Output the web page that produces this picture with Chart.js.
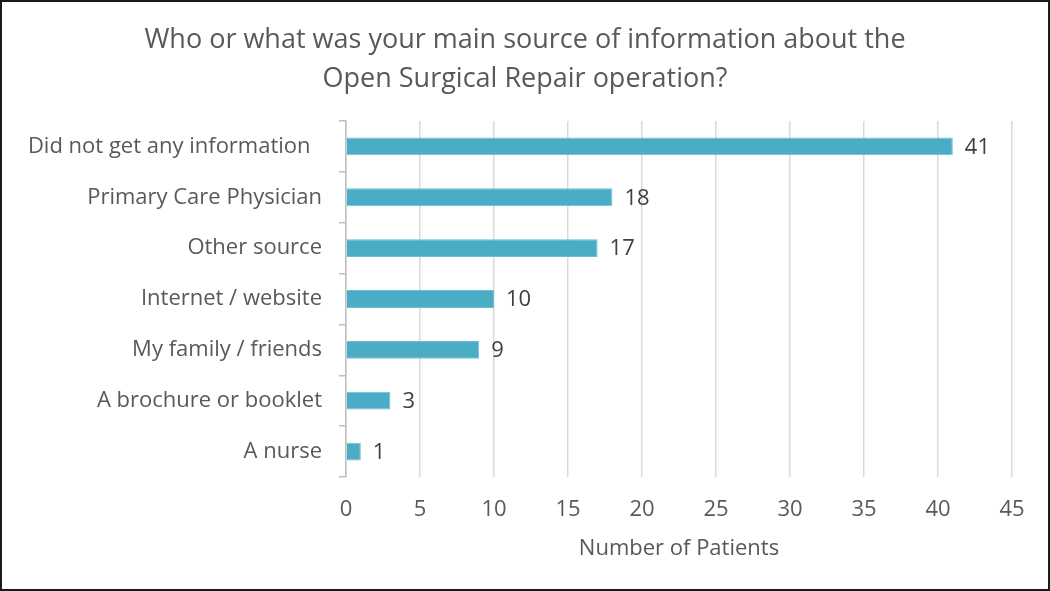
<!DOCTYPE html>
<html><head><meta charset="utf-8">
<script src="https://cdn.jsdelivr.net/npm/chart.js@4.4.1/dist/chart.umd.min.js"></script>
<style>html,body{margin:0;padding:0;background:#fff}#wrap{width:1050px;height:591px;position:relative}</style>
</head><body><div id="wrap"><canvas id="c" width="1050" height="591"></canvas></div>
<script>
const titleLines = ["Who or what was your main source of information about the", "Open Surgical Repair operation?"];
const categories = ["Did not get any information  ", "Primary Care Physician", "Other source", "Internet / website", "My family / friends", "A brochure or booklet", "A nurse"];
const patientCounts = [41, 18, 17, 10, 9, 3, 1];
const xAxisTitle = "Number of Patients";
const xMax = 45;
const xStep = 5;

const FONT = "'Open Sans', Lato, sans-serif";

const borderPlugin = {
  id: 'frame',
  afterDraw(chart) {
    const ctx = chart.ctx;
    ctx.save();
    ctx.strokeStyle = '#1a1a1a';
    ctx.lineWidth = 2;
    ctx.strokeRect(1, 1, chart.width - 2, chart.height - 2);
    ctx.restore();
  }
};
const labelPlugin = {
  id: 'vals',
  afterDatasetsDraw(chart) {
    const ctx = chart.ctx;
    const meta = chart.getDatasetMeta(0);
    ctx.save();
    ctx.font = "22px " + FONT;
    ctx.fillStyle = '#404040';
    ctx.textAlign = 'left';
    ctx.textBaseline = 'middle';
    meta.data.forEach((bar, i) => {
      ctx.fillText(String(chart.data.datasets[0].data[i]), bar.x + 12, bar.y + 1);
    });
    ctx.restore();
  }
};

new Chart(document.getElementById('c'), {
  type: 'bar',
  data: {
    labels: categories,
    datasets: [{
      data: patientCounts,
      backgroundColor: '#4BACC6',
      borderColor: '#6cc0d6',
      borderWidth: 1,
      barPercentage: 0.35,
      categoryPercentage: 1.0
    }]
  },
  options: {
    indexAxis: 'y',
    responsive: false,
    animation: false,
    devicePixelRatio: 1,
    layout: { padding: { left: 0, right: 0, top: 0, bottom: 29 } },
    plugins: {
      legend: { display: false },
      tooltip: { enabled: false },
      title: {
        display: true,
        text: titleLines,
        color: '#595959',
        font: { family: FONT, size: 27, weight: 'normal', lineHeight: 1.444 },
        padding: { top: 21, bottom: 22 }
      }
    },
    scales: {
      x: {
        min: 0, max: xMax,
        ticks: { stepSize: xStep, color: '#595959', font: { family: FONT, size: 22 }, padding: 20 },
        grid: { color: '#d9d9d9', lineWidth: 1.5, drawTicks: false },
        border: { display: false },
        title: { display: true, text: xAxisTitle, color: '#595959', font: { family: FONT, size: 22 }, padding: { top: 4, bottom: 0 } },
        afterFit(s) { s.height = 85; }
      },
      y: {
        ticks: { color: '#595959', font: { family: FONT, size: 22 }, padding: 17 },
        grid: { drawOnChartArea: false, drawTicks: true, tickLength: 7, color: '#bfbfbf', lineWidth: 1.5, offset: true },
        border: { display: true, color: '#bfbfbf', width: 1.5 },
        afterFit(s) { s.width = 346; }
      },
      rightGap: {
        type: 'linear',
        position: 'right',
        display: true,
        ticks: { display: false },
        grid: { display: false },
        border: { display: false },
        afterFit(s) { s.width = 38; }
      }
    }
  },
  plugins: [labelPlugin, borderPlugin]
});
</script></body></html>
